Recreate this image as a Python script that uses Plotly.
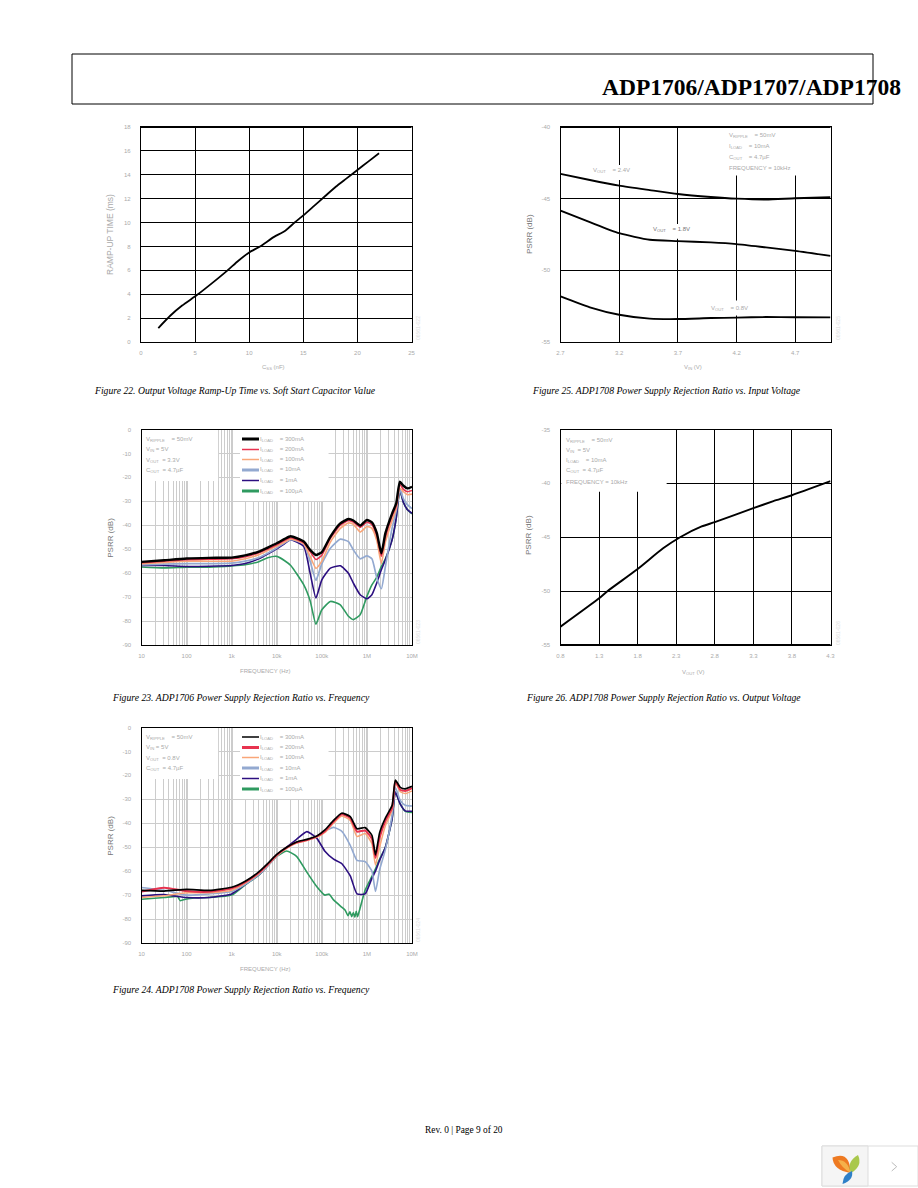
import plotly.graph_objects as go

# Figure 22
F22_CSS = [1.6, 2.7, 3.8, 5.2, 6.6, 8.0, 9.0, 10.0, 11.0, 12.3, 13.3, 14.2, 15.0, 16.0, 17.0, 18.0, 19.0, 20.0, 21.0, 22.0]
F22_TIME = [1.17, 2.2, 3.05, 3.95, 4.95, 6.0, 6.8, 7.5, 8.0, 8.8, 9.3, 10.0, 10.6, 11.4, 12.2, 13.0, 13.7, 14.4, 15.1, 15.8]

# Figure 25
F25_VIN = [2.7, 2.95, 3.2, 3.46, 3.7, 3.98, 4.2, 4.45, 4.7, 5.0]
F25_24V = [-43.27, -43.7, -44.09, -44.4, -44.67, -44.88, -45.0, -45.06, -44.97, -44.9]
F25_18V = [-45.83, -46.64, -47.41, -47.87, -47.96, -48.05, -48.17, -48.4, -48.64, -48.99]
F25_08V = [-51.82, -52.58, -53.1, -53.37, -53.4, -53.33, -53.3, -53.26, -53.27, -53.28]

# Figure 26
F26_VOUT = [0.8, 1.3, 1.4, 1.8, 2.13, 2.35, 2.63, 2.8, 3.3, 3.56, 3.8, 4.3]
F26_PSRR = [-53.3, -50.67, -50.05, -47.95, -46.03, -45.0, -44.0, -43.6, -42.3, -41.65, -41.1, -39.8]

# Figure 23
F23_FREQ = [10, 32, 100, 316, 1000, 2000, 4000, 6300, 10000, 15000, 20400, 39800, 55000, 74000, 100000, 155000,
            257000, 389000, 501000, 708000, 1000000, 1290000, 1660000, 2090000, 2570000, 3630000, 4470000,
            5370000, 6460000, 7940000, 10000000]
F23_300MA = [-55.3, -54.6, -53.9, -53.6, -53.5, -52.6, -51, -49.3, -47.5, -45.7, -44.6, -46.8, -50.3, -52.4, -51.2,
             -44.7, -39.2, -37.4, -38, -40.1, -37.8, -38.8, -43.3, -51.7, -43.3, -35, -30.8, -21.8, -23.5, -24.6, -23.9]
F23_200MA = [-55.6, -55, -54.4, -54.2, -54, -53.2, -51.5, -49.9, -48.2, -46.3, -45.2, -47.3, -51, -54.3, -52.5,
             -45.5, -40, -38, -38.7, -40.8, -38.7, -39.8, -44.5, -53, -45, -36, -32, -23, -25, -26, -25.5]
F23_100MA = [-56, -55.5, -55, -55, -55, -54, -52.3, -50.5, -48.8, -47, -45.7, -47.8, -53, -58, -55,
             -47, -41.3, -39, -39.6, -42.8, -40.5, -41.3, -46.5, -56, -47, -38, -33, -24.5, -26, -27.2, -27]
F23_10MA = [-56.5, -56.2, -56, -56, -55.8, -55, -53.5, -51.7, -49.5, -47.3, -46, -47.8, -55, -63, -56,
            -49.6, -45.8, -46.8, -50.3, -54, -52.8, -54, -62, -66.5, -57.2, -41, -34, -25, -29, -31.5, -33]
F23_1MA = [-56.8, -56.8, -57.2, -57.1, -56.8, -56, -54, -52, -49.8, -47.6, -46, -48.9, -60, -70.4, -62.8,
           -57.9, -56.9, -60, -64.2, -69, -70.7, -69, -64, -58.6, -54.4, -46, -37, -25, -30.5, -33.5, -35]
F23_100UA = [-57.4, -57.8, -57.5, -57.5, -57, -56.5, -55.2, -53.6, -53, -54.8, -56.8, -64.9, -71.5, -81.3, -75.3,
             -71.8, -73.2, -78, -79.4, -77.4, -69.7, -64.9, -61.7, -57.2, -54, -46, -37, -25.5, -30.5, -33.5, -35.2]

# Figure 24
F24_FREQ = [10, 32, 100, 316, 1000, 2000, 4000, 6300, 10000, 16600, 27500, 46800, 77600, 117000, 182000, 275000,
            427000, 603000, 912000, 1290000, 1550000, 1910000, 2570000, 3630000, 4270000, 5500000, 7080000, 10000000]
F24_300MA = [-68, -68.3, -67.6, -68, -66.7, -64.2, -60.3, -56.8, -53, -50, -47.8, -46.7, -45.3, -42.8, -38.8, -35.8,
             -37.2, -42.3, -41.8, -45, -53.2, -44, -37.8, -32.5, -22, -25, -25.6, -24.6]
F24_200MA = [-68.5, -66.9, -68.3, -68.6, -67.2, -64.6, -60.7, -57.2, -53.3, -50.2, -48, -47, -45.5, -43.3, -39.3, -36.2,
             -37.8, -43.5, -43, -46.5, -54.5, -46, -39, -33.5, -22.5, -26, -26.5, -25.3]
F24_100MA = [-71, -70.3, -69, -69, -68, -65, -61, -57.5, -53.6, -50.5, -48.3, -47.2, -45.8, -43.8, -40, -37,
             -38.8, -45.5, -44.3, -48.5, -57.5, -50, -41, -34.5, -23, -26.8, -27.6, -26.5]
F24_10MA = [-66.8, -68, -70, -69.5, -68.5, -65.5, -61.5, -57.8, -53.8, -50.3, -48, -46.8, -45.5, -43.3, -41.7, -43.3,
            -49.2, -55.5, -56, -60, -68.5, -59.5, -51, -36.5, -25, -30.5, -32.5, -32.8]
F24_1MA = [-70.3, -69.8, -71, -71, -69.5, -65.5, -61.5, -57.7, -53.5, -50, -46.7, -43.5, -46.3, -51.7, -55, -56.8,
           -62, -69.5, -69.5, -63, -60, -55.5, -50, -38, -27, -32, -34.8, -35]
F24_100UA_FREQ = [10, 32, 63, 72, 100, 150, 316, 1000, 2000, 4000, 6300, 10000, 16600, 27500, 46800, 77600, 117000,
                  145000, 182000, 275000, 330000, 380000, 420000, 460000, 500000, 540000, 580000, 620000, 680000,
                  912000, 1290000, 1550000, 1910000, 2570000, 3630000, 4270000, 5500000, 7080000, 10000000]
F24_100UA = [-71.7, -71, -70.6, -72.3, -71.6, -71.2, -71, -70, -65.7, -61.7, -57.7, -53.8, -51.6, -53.8, -60.5, -66.5,
             -70, -69.6, -72, -75, -76.3, -78.6, -77, -79, -77.3, -79.2, -76.8, -79, -76.5,
             -68, -62.2, -59, -55, -50, -38, -27, -32, -35, -35.5]

LOG_TICKS = [10, 100, 1000, 10000, 100000, 1000000, 10000000]
LOG_LABELS = ["10", "100", "1k", "10k", "100k", "1M", "10M"]
PSRR_TICKS = [0, -10, -20, -30, -40, -50, -60, -70, -80, -90]
LOAD_LABELS = ["300mA", "200mA", "100mA", "10mA", "1mA", "100µA"]

W, H = 918, 1188
BLACK = "#000000"
GRID = "#cccccc"
LABEL = "#aaaaaa"
SANS = "Liberation Sans"
SERIF = "Liberation Serif"

LOAD_COLORS = ["#000000", "#e8334f", "#f9a678", "#93a9d0", "#2c0f80", "#2f9a60"]
WIDTHS_23 = [2.4, 1.5, 1.6, 1.7, 1.6, 1.6]
WIDTHS_24 = [1.7, 2.0, 1.5, 1.6, 1.6, 1.6]
LEGEND_23 = [3, 1.5, 1.5, 3, 1.5, 3]
LEGEND_24 = [1.5, 3, 1.5, 3, 1.5, 3]

fig = go.Figure()
shapes = []
notes = []


def px(x):
    return x / W


def py(y):
    return 1 - y / H


def text(x, y, s, size=6, color=LABEL, family=SANS, xanchor="left", angle=0):
    # annotations carry about 3px of padding on the anchored side
    if xanchor == "left":
        x -= 3
    notes.append(dict(
        x=px(x), y=py(y), xref="paper", yref="paper", text=s, showarrow=False,
        xanchor=xanchor, yanchor="middle", textangle=angle,
        font=dict(family=family, size=size, color=color),
    ))


def line(x0, y0, x1, y1, color=BLACK, width=1):
    shapes.append(dict(
        type="line", xref="paper", yref="paper", layer="above",
        x0=px(x0), y0=py(y0), x1=px(x1), y1=py(y1),
        line=dict(color=color, width=width),
    ))


def mask(n, x0, y0, x1, y1):
    # white boxes sit over the grid, under the curves
    suffix = "" if n == 1 else str(n)
    shapes.append(dict(
        type="rect", xref="x" + suffix, yref="y" + suffix, layer="between",
        x0=x0, x1=x1, y0=y0, y1=y1, fillcolor="#ffffff", line=dict(width=0),
    ))


def panel(n, box, xaxis, yaxis):
    left, top, right, bottom = box
    common = dict(
        showline=True, linecolor=BLACK, linewidth=1.3, mirror=True, ticks="", zeroline=False,
        tickfont=dict(family=SANS, size=6, color=LABEL),
    )
    suffix = "" if n == 1 else str(n)
    fig.update_layout({
        "xaxis" + suffix: dict(domain=[px(left), px(right)], anchor="y" + suffix, ticklabelstandoff=5, **common, **xaxis),
        "yaxis" + suffix: dict(domain=[py(bottom), py(top)], anchor="x" + suffix, ticklabelstandoff=8, **common, **yaxis),
    })


def lin_axis(lo, hi, ticks, labels=None):
    return dict(
        range=[lo, hi], tickmode="array", tickvals=ticks, ticktext=labels or [str(t) for t in ticks],
        showgrid=True, gridcolor=BLACK, gridwidth=1,
    )


def freq_axes():
    x = dict(
        type="log", range=[1, 7], tickmode="array", tickvals=LOG_TICKS, ticktext=LOG_LABELS,
        showgrid=True, gridcolor=GRID, gridwidth=2,
        minor=dict(dtick="D1", showgrid=True, gridcolor=GRID, gridwidth=1, ticks=""),
    )
    y = dict(
        range=[-90, 0], tickmode="array", tickvals=PSRR_TICKS, ticktext=[str(t) for t in PSRR_TICKS],
        showgrid=True, gridcolor=GRID, gridwidth=1,
    )
    return x, y


def black_curve(n, x, y, width=1.8):
    suffix = "" if n == 1 else str(n)
    fig.add_trace(go.Scatter(
        x=x, y=y, mode="lines", xaxis="x" + suffix, yaxis="y" + suffix, showlegend=False,
        line=dict(color=BLACK, width=width, shape="spline", smoothing=0.6),
    ))


def freq_panel(n, box, freqs, series, widths, legend_widths, conditions):
    x, y = freq_axes()
    panel(n, box, x, y)
    left, top, right, bottom = box
    mask(n, 10, -21.5, 500, 0)
    mask(n, 1530, -29.9, 141000, 0)
    suffix = "" if n == 1 else str(n)
    for freq, vals, color, width in reversed(list(zip(freqs, series, LOAD_COLORS, widths))):
        fig.add_trace(go.Scatter(
            x=freq, y=vals, mode="lines", xaxis="x" + suffix, yaxis="y" + suffix, showlegend=False,
            line=dict(color=color, width=width, shape="spline", smoothing=0.5),
        ))
    for row, cond in zip([9.5, 20, 30.5, 41], conditions):
        text(left + 5, top + row, cond)
    rows = [9.5, 20, 30, 40.5, 51, 61.5]
    for row, lab, color, width in zip(rows, LOAD_LABELS, LOAD_COLORS, legend_widths):
        line(242, top + row, 259, top + row, color, width)
        text(261, top + row, f"I<sub>LOAD</sub>    = {lab}")
    text(265, bottom + 26, "FREQUENCY (Hz)", xanchor="center")
    text(left - 31, (top + bottom) / 2 + 1, "PSRR (dB)", size=8, color="#777777", xanchor="center", angle=-90)


# Figure 22
BOX22 = (141, 127, 411.5, 342)
panel(1, BOX22, lin_axis(0, 25, [0, 5, 10, 15, 20, 25]), lin_axis(0, 18, list(range(0, 19, 2))))
black_curve(1, F22_CSS, F22_TIME)
text(110, 235, "RAMP-UP TIME (ms)", size=8.5, color="#aaaaaa", xanchor="center", angle=-90)
text(273, 368, "C<sub>SS</sub> (nF)", xanchor="center")
line(141, 127, 411.5, 127, BLACK, 2.2)

# Figure 25
BOX25 = (560.5, 127, 830.5, 342)
panel(2, BOX25, lin_axis(2.7, 5.0, [2.7, 3.2, 3.7, 4.2, 4.7]), lin_axis(-55, -40, [-40, -45, -50, -55]))
mask(2, 4.13, -43.39, 4.9, -40.05)
mask(2, 3.0, -43.7, 3.38, -42.65)
mask(2, 3.5, -47.8, 3.9, -46.76)
mask(2, 4.0, -53.15, 4.38, -52.1)
black_curve(2, F25_VIN, F25_24V, 1.9)
black_curve(2, F25_VIN, F25_18V, 1.9)
black_curve(2, F25_VIN, F25_08V, 1.9)
for row, s in zip([135.7, 147, 157.3, 167.7],
                  ["V<sub>RIPPLE</sub>    = 50mV", "I<sub>LOAD</sub>    = 10mA",
                   "C<sub>OUT</sub>    = 4.7µF", "FREQUENCY = 10kHz"]):
    text(730, row, s)
text(594, 170.7, "V<sub>OUT</sub>    = 2.4V")
text(653.5, 230, "V<sub>OUT</sub>    = 1.8V", color="#777777")
text(711.7, 308.3, "V<sub>OUT</sub>    = 0.8V")
text(529, 234, "PSRR (dB)", size=8, color="#777777", xanchor="center", angle=-90)
text(693, 368, "V<sub>IN</sub> (V)", xanchor="center")
line(560.5, 127, 830.5, 127, BLACK, 2.2)

# Figure 23
BOX23 = (141.5, 429.5, 412, 645)
freq_panel(3, BOX23, [F23_FREQ] * 6, [F23_300MA, F23_200MA, F23_100MA, F23_10MA, F23_1MA, F23_100UA],
           WIDTHS_23, LEGEND_23,
           ["V<sub>RIPPLE</sub>    = 50mV", "V<sub>IN</sub> = 5V", "V<sub>OUT</sub>  = 3.3V", "C<sub>OUT</sub>  = 4.7µF"])

# Figure 26
BOX26 = (560.5, 429.5, 830.5, 645)
panel(4, BOX26, lin_axis(0.8, 4.3, [0.8, 1.3, 1.8, 2.3, 2.8, 3.3, 3.8, 4.3]),
      lin_axis(-55, -35, [-35, -40, -45, -50, -55]))
mask(4, 0.81, -40.78, 2.176, -35.05)
black_curve(4, F26_VOUT, F26_PSRR, 1.9)
for row, s in zip([440, 450, 460.7, 471, 482],
                  ["V<sub>RIPPLE</sub>    = 50mV", "V<sub>IN</sub>  = 5V", "I<sub>LOAD</sub>    = 10mA",
                   "C<sub>OUT</sub>  = 4.7µF", "FREQUENCY = 10kHz"]):
    text(566.7, row, s)
text(529, 535, "PSRR (dB)", size=8, color="#777777", xanchor="center", angle=-90)
text(693, 672, "V<sub>OUT</sub> (V)", xanchor="center")
line(560.5, 645, 830.5, 645, BLACK, 2.2)

# Figure 24
BOX24 = (141.5, 727.5, 412, 943)
freq_panel(5, BOX24, [F24_FREQ] * 5 + [F24_100UA_FREQ],
           [F24_300MA, F24_200MA, F24_100MA, F24_10MA, F24_1MA, F24_100UA],
           WIDTHS_24, LEGEND_24,
           ["V<sub>RIPPLE</sub>    = 50mV", "V<sub>IN</sub> = 5V", "V<sub>OUT</sub>  = 0.8V", "C<sub>OUT</sub>  = 4.7µF"])

# captions
CAPTIONS = [
    (95, 390, "Figure 22. Output Voltage Ramp-Up Time vs. Soft Start Capacitor Value"),
    (532.7, 390, "Figure 25. ADP1708 Power Supply Rejection Ratio vs. Input Voltage"),
    (113.3, 697, "Figure 23. ADP1706 Power Supply Rejection Ratio vs. Frequency"),
    (527.3, 697.5, "Figure 26. ADP1708 Power Supply Rejection Ratio vs. Output Voltage"),
    (113.3, 989.7, "Figure 24. ADP1708 Power Supply Rejection Ratio vs. Frequency"),
]
for x, y, s in CAPTIONS:
    text(x, y, f"<i>{s}</i>", size=9.7, color=BLACK, family=SERIF)

# faint drawing codes beside the plots
for x, y, code in [(418, 328, "06561-022"), (838, 328, "06561-025"), (418, 632, "06561-023"),
                   (838, 633, "06561-026"), (418, 930, "06561-024")]:
    text(x, y, code, size=5, color="#dddddd", xanchor="center", angle=-90)

# page header and footer
shapes.append(dict(type="rect", xref="paper", yref="paper", x0=px(72), x1=px(873), y0=py(104), y1=py(54),
                   line=dict(color=BLACK, width=1), layer="below"))
text(603, 87, "<b>ADP1706/ADP1707/ADP1708</b>", size=23.5, color=BLACK, family=SERIF)
text(463.5, 1130, "Rev. 0 | Page 9 of 20", size=9.4, color=BLACK, family=SERIF, xanchor="center")

# viewer badge, bottom right
shapes.append(dict(type="rect", xref="paper", yref="paper", x0=px(822), x1=px(918), y0=py(1186), y1=py(1146),
                   fillcolor="#ffffff", line=dict(color="#dddddd", width=1), layer="below"))
shapes.append(dict(type="rect", xref="paper", yref="paper", x0=px(822), x1=px(868), y0=py(1186), y1=py(1146),
                   fillcolor="#f5f5f5", line=dict(color="#dddddd", width=1), layer="below"))


def petal(x0, y0, cx1, cy1, x1, y1, cx2, cy2, color):
    path = (f"M {px(x0)} {py(y0)} Q {px(cx1)} {py(cy1)} {px(x1)} {py(y1)} "
            f"Q {px(cx2)} {py(cy2)} {px(x0)} {py(y0)} Z")
    shapes.append(dict(type="path", xref="paper", yref="paper", path=path, fillcolor=color,
                       line=dict(width=0), layer="above"))


petal(832.5, 1157.5, 850, 1150, 850.5, 1173, 833, 1170, "#ee7a22")
petal(838, 1160, 848, 1160, 850.5, 1173, 842, 1168, "#f5b04a")
petal(851, 1173, 846, 1162, 858, 1155, 863, 1166, "#a9c84c")
petal(842.5, 1184, 843, 1174, 852, 1171, 854, 1180, "#2f80c8")
line(891.7, 1162.3, 896.7, 1166.7, "#bbbbbb", 1)
line(896.7, 1166.7, 891.7, 1171, "#bbbbbb", 1)

fig.update_layout(
    width=W, height=H, autosize=False,
    margin=dict(l=0, r=0, t=0, b=0, autoexpand=False),
    paper_bgcolor="#ffffff", plot_bgcolor="#ffffff",
    showlegend=False, shapes=shapes, annotations=notes,
)

fig.write_html("out.html", config=dict(displayModeBar=False),
               post_script="document.body.style.margin='0';")
